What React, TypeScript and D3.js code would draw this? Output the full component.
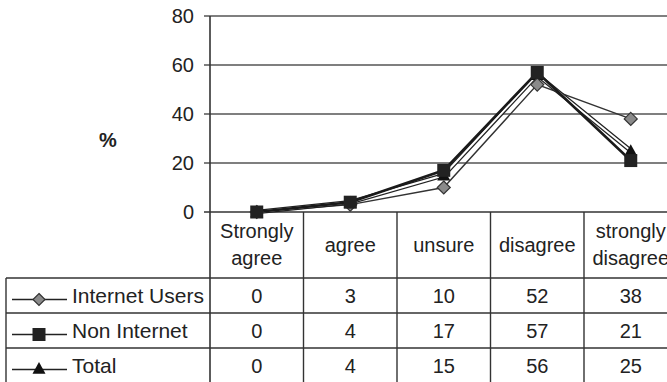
import React from "react";
import * as d3 from "d3";

const categories = ["Strongly agree", "agree", "unsure", "disagree", "strongly disagree"];
const headerLines = [["Strongly", "agree"], ["agree"], ["unsure"], ["disagree"], ["strongly", "disagree"]];
const seriesNames = ["Internet Users", "Non Internet", "Total"];
const internetUsers = [0, 3, 10, 52, 38];
const nonInternet = [0, 4, 17, 57, 21];
const total = [0, 4, 15, 56, 25];
const yTicks = [0, 20, 40, 60, 80];

const W = 667;
const H = 382;
const FONT = "'Liberation Sans', Arial, sans-serif";
const TXT = "#222";

export default function App() {
  const x = d3.scaleBand<string>().domain(categories).range([210, 210 + 93.5 * 5]);
  const y = d3.scaleLinear().domain([0, 80]).range([212, 16]);
  const rowY = d3.scaleBand<string>().domain(seriesNames).range([278, 383]);
  const cx = (i: number) => (x(categories[i]) as number) + x.bandwidth() / 2;
  const line = d3
    .line<number>()
    .x((_, i) => cx(i))
    .y((v) => y(v));

  const seriesData = [internetUsers, nonInternet, total];

  const diamond = (px: number, py: number, s: number, key: string) => (
    <path
      key={key}
      d={`M${px},${py - s}L${px + s},${py}L${px},${py + s}L${px - s},${py}Z`}
      fill="#8a8a8a"
      stroke="#333"
      strokeWidth={1.2}
    />
  );
  const square = (px: number, py: number, s: number, key: string) => (
    <rect key={key} x={px - s} y={py - s} width={2 * s} height={2 * s} fill="#222" />
  );
  const triangle = (px: number, py: number, s: number, key: string) => (
    <path key={key} d={`M${px},${py - s}L${px + s},${py + s * 0.8}L${px - s},${py + s * 0.8}Z`} fill="#111" />
  );

  const plotRight = 210 + 93.5 * 5;

  return (
    <svg
      width={W}
      height={H}
      style={{ position: "absolute", left: 0, top: 0, background: "#fff" }}
      fontFamily={FONT}
    >
      {/* gridlines */}
      {yTicks.map((t) => (
        <g key={t}>
          <line x1={204} x2={plotRight} y1={y(t)} y2={y(t)} stroke={t === 0 ? "#333" : "#555"} strokeWidth={1.6} />
          <text x={194} y={y(t) + 7} textAnchor="end" fontSize={20} fill={TXT}>
            {t}
          </text>
        </g>
      ))}
      <line x1={210} x2={210} y1={y(80)} y2={H} stroke="#333" strokeWidth={1.6} />
      <text x={108} y={147} textAnchor="middle" fontSize={20} fontWeight="bold" fill={TXT}>
        %
      </text>

      {/* table header */}
      {categories.map((c, i) => {
        const lines = headerLines[i];
        const x0 = x(c) as number;
        return (
          <g key={c}>
            <line x1={x0 + x.bandwidth()} x2={x0 + x.bandwidth()} y1={212} y2={H} stroke="#333" strokeWidth={1.4} />
            {lines.map((l, j) => (
              <text
                key={j}
                x={cx(i)}
                y={lines.length === 1 ? 252 : 238 + j * 27}
                textAnchor="middle"
                fontSize={20}
                fill={TXT}
              >
                {l}
              </text>
            ))}
          </g>
        );
      })}

      {/* table rows */}
      <line x1={6} x2={6} y1={278} y2={H} stroke="#333" strokeWidth={1.4} />
      {seriesNames.map((s, si) => {
        const top = rowY(s) as number;
        const mid = top + rowY.bandwidth() / 2;
        const mk = si === 0 ? diamond(39, mid + 4, 6, "m") : si === 1 ? square(39, mid + 4, 6.5, "m") : triangle(39, mid + 3, 6.5, "m");
        return (
          <g key={s}>
            <line x1={6} x2={plotRight} y1={top} y2={top} stroke="#333" strokeWidth={1.4} />
            <line x1={12} x2={67} y1={mid + 4} y2={mid + 4} stroke="#222" strokeWidth={1.3} />
            {mk}
            <text x={72} y={mid + 7} fontSize={21} fill={TXT}>
              {s}
            </text>
            {seriesData[si].map((v, i) => (
              <text key={i} x={cx(i)} y={mid + 7} textAnchor="middle" fontSize={20} fill={TXT}>
                {v}
              </text>
            ))}
          </g>
        );
      })}

      {/* series lines */}
      <path d={line(internetUsers) || ""} fill="none" stroke="#333" strokeWidth={1.4} />
      <path d={line(total) || ""} fill="none" stroke="#222" strokeWidth={4.5} />
      <path d={line(total) || ""} fill="none" stroke="#fff" strokeWidth={2} />
      <path d={line(nonInternet) || ""} fill="none" stroke="#1a1a1a" strokeWidth={2.6} />
      {total.map((v, i) => triangle(cx(i), y(v), 6.5, "t" + i))}
      {internetUsers.map((v, i) => diamond(cx(i), y(v), 6.5, "d" + i))}
      {nonInternet.map((v, i) => square(cx(i), y(v), 6.5, "s" + i))}
    </svg>
  );
}
